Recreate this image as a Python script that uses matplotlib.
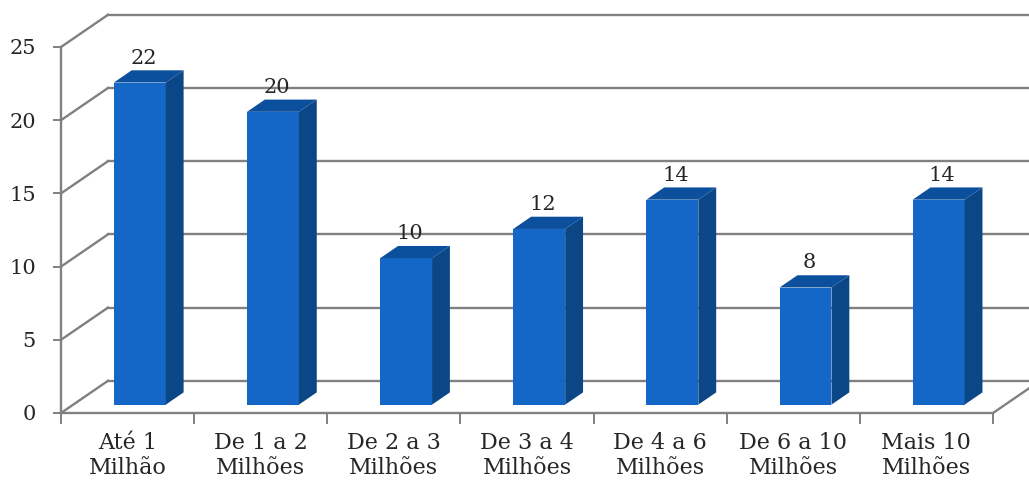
import numpy as np
import matplotlib.pyplot as plt
from matplotlib.patches import Polygon

categories = ['Até 1\nMilhão', 'De 1 a 2\nMilhões', 'De 2 a 3\nMilhões', 'De 3 a 4\nMilhões',
              'De 4 a 6\nMilhões', 'De 6 a 10\nMilhões', 'Mais 10\nMilhões']
values = [22, 20, 10, 12, 14, 8, 14]
y_ticks = [0, 5, 10, 15, 20, 25]

front_col = '#1467c6'
side_col = '#0b4686'
top_col = '#0c4f9c'
grid_col = '#808080'
text_col = '#262626'

plt.rcParams['font.family'] = ['DejaVu Serif']

fig = plt.figure(figsize=(10.29, 4.93), dpi=100)
ax = fig.add_axes([61 / 1029, 80 / 493, 932 / 1029, 366 / 493])
n = len(values)
ax.set_xlim(0, n)
ax.set_ylim(0, 25)

# depth of the 3d box, in data units
DX, DY = 0.353, 2.2
t_front, t_back = 0.26, 0.64
bw = 0.39

# back wall + left wall gridlines
for v in y_ticks:
    ax.plot([0, DX], [v, v + DY], color=grid_col, lw=1.7, clip_on=False, zorder=1)
    ax.plot([DX, n + DX], [v + DY, v + DY], color=grid_col, lw=1.7, clip_on=False, zorder=1)
# floor right edge
ax.plot([n, n + DX], [0, DY], color=grid_col, lw=1.7, clip_on=False, zorder=1)

# bars
for i, v in enumerate(values):
    c = i + 0.5 + t_front * DX
    x0, x1 = c - bw / 2, c + bw / 2
    y0 = t_front * DY
    ddx = (t_back - t_front) * DX
    ddy = (t_back - t_front) * DY
    front = Polygon([(x0, y0), (x1, y0), (x1, y0 + v), (x0, y0 + v)],
                    closed=True, fc=front_col, ec='none', zorder=3, clip_on=False)
    side = Polygon([(x1, y0), (x1 + ddx, y0 + ddy), (x1 + ddx, y0 + ddy + v), (x1, y0 + v)],
                   closed=True, fc=side_col, ec='none', zorder=3, clip_on=False)
    top = Polygon([(x0, y0 + v), (x1, y0 + v), (x1 + ddx, y0 + ddy + v), (x0 + ddx, y0 + ddy + v)],
                  closed=True, fc=top_col, ec='none', zorder=3, clip_on=False)
    for p in (front, side, top):
        ax.add_patch(p)
    ax.annotate(str(v), (c + ddx * 0.2, y0 + ddy + v), xytext=(0, 2), textcoords='offset points',
                ha='center', va='bottom', fontsize=15, color=text_col, zorder=4,
                annotation_clip=False)

for s in ['top', 'right']:
    ax.spines[s].set_visible(False)
for s in ['left', 'bottom']:
    ax.spines[s].set_color(grid_col)
    ax.spines[s].set_linewidth(1.7)
    ax.spines[s].set_zorder(2)

ax.set_yticks(y_ticks)
ax.set_yticklabels([str(t) for t in y_ticks], fontsize=15, color=text_col)
ax.tick_params(axis='y', direction='out', length=6, width=1.4, color=grid_col, pad=12)

ax.set_xticks(np.arange(n + 1))
ax.set_xticklabels([])
ax.set_xticks(np.arange(n) + 0.5, minor=True)
ax.set_xticklabels(categories, minor=True, fontsize=16, color=text_col, linespacing=1.15)
ax.tick_params(axis='x', which='major', direction='out', length=8, width=1.4, color=grid_col)
ax.tick_params(axis='x', which='minor', length=0, pad=14)

fig.savefig('out.png', dpi=100, facecolor='white')
